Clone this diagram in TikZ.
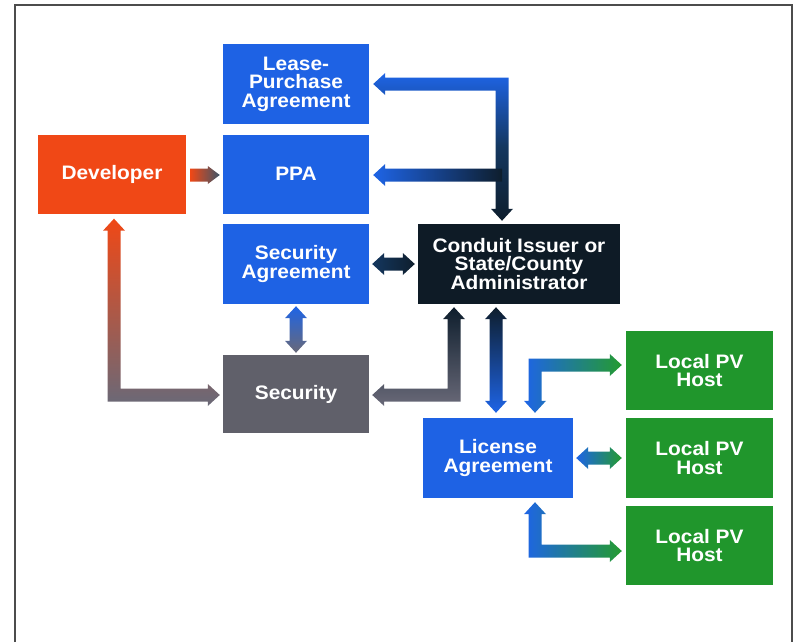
\documentclass[tikz,border=0pt]{standalone}
\usepackage{fontspec}
\setmainfont{Liberation Sans}[FakeStretch=1.07]
\usetikzlibrary{calc}
\definecolor{bbox}{RGB}{30,98,228}
\definecolor{obox}{RGB}{240,72,22}
\definecolor{gbox}{RGB}{96,96,106}
\definecolor{nbox}{RGB}{14,27,38}
\definecolor{grbox}{RGB}{32,150,44}
\definecolor{ablue}{RGB}{30,100,230}
\definecolor{adark}{RGB}{14,30,45}
\definecolor{amid}{RGB}{20,55,95}
\definecolor{agray}{RGB}{105,105,120}
\definecolor{agreen}{RGB}{36,155,48}
\definecolor{aslate}{RGB}{60,85,105}
\def\aSW{6.5pt}
\def\aHW{11pt}
\def\aHL{12pt}
% horizontal double arrow: #1 left tip, #2 right tip
\newcommand\HDbl[4]{%
  \shade[left color=#3,right color=#4] let \p1=#1, \p2=#2 in
   (\x1,\y1) -- (\x1+\aHL,\y1+\aHW) -- (\x1+\aHL,\y1+\aSW) -- (\x2-\aHL,\y1+\aSW) -- (\x2-\aHL,\y1+\aHW) -- (\x2,\y1)
   -- (\x2-\aHL,\y1-\aHW) -- (\x2-\aHL,\y1-\aSW) -- (\x1+\aHL,\y1-\aSW) -- (\x1+\aHL,\y1-\aHW) -- cycle;}
% vertical double arrow: #1 top tip, #2 bottom tip
\newcommand\VDbl[4]{%
  \shade[top color=#3,bottom color=#4] let \p1=#1, \p2=#2 in
   (\x1,\y1) -- (\x1+\aHW,\y1-\aHL) -- (\x1+\aSW,\y1-\aHL) -- (\x1+\aSW,\y2+\aHL) -- (\x1+\aHW,\y2+\aHL) -- (\x1,\y2)
   -- (\x1-\aHW,\y2+\aHL) -- (\x1-\aSW,\y2+\aHL) -- (\x1-\aSW,\y1-\aHL) -- (\x1-\aHW,\y1-\aHL) -- cycle;}
% L arrow: #1 up tip, #2 right tip (corner below-left)
\newcommand\ULArrow[3]{%
  \shade[#3] let \p1=#1, \p2=#2 in
   (\x1,\y1) -- (\x1+\aHW,\y1-\aHL) -- (\x1+\aSW,\y1-\aHL) -- (\x1+\aSW,\y2+\aSW) -- (\x2-\aHL,\y2+\aSW) -- (\x2-\aHL,\y2+\aHW) -- (\x2,\y2)
   -- (\x2-\aHL,\y2-\aHW) -- (\x2-\aHL,\y2-\aSW) -- (\x1-\aSW,\y2-\aSW) -- (\x1-\aSW,\y1-\aHL) -- (\x1-\aHW,\y1-\aHL) -- cycle;}
% L arrow: #1 down tip, #2 right tip (corner above-left)
\newcommand\DLArrow[3]{%
  \shade[#3] let \p1=#1, \p2=#2 in
   (\x1,\y1) -- (\x1+\aHW,\y1+\aHL) -- (\x1+\aSW,\y1+\aHL) -- (\x1+\aSW,\y2-\aSW) -- (\x2-\aHL,\y2-\aSW) -- (\x2-\aHL,\y2-\aHW) -- (\x2,\y2)
   -- (\x2-\aHL,\y2+\aHW) -- (\x2-\aHL,\y2+\aSW) -- (\x1-\aSW,\y2+\aSW) -- (\x1-\aSW,\y1+\aHL) -- (\x1-\aHW,\y1+\aHL) -- cycle;}
\tikzset{
  box/.style={minimum width=146pt, minimum height=80pt, inner sep=0pt, text=white, align=center,
    font=\fontsize{19.5}{18.5}\selectfont\bfseries},
  frame/.style={line width=1.5pt, draw=black!70}
}
\begin{document}
\begin{tikzpicture}[x=1pt,y=-1pt]
\useasboundingbox (0,0) rectangle (797,642);
\draw[frame] (15,642) -- (15,5) -- (792,5) -- (792,642);

\node[box, fill=bbox] (lease) at (296,84) {Lease-\\Purchase\\Agreement};
\node[box, fill=bbox, minimum height=79pt] (ppa) at (296,174) {PPA};
\node[box, fill=obox, minimum width=148pt, minimum height=79pt] (dev) at (112,174) {Developer};
\node[box, fill=bbox] (secag) at (296,264) {Security\\Agreement};
\node[box, fill=gbox, minimum height=78pt] (sec) at (296,394) {Security};
\node[box, fill=nbox, minimum width=202pt] (cond) at (519,264) {Conduit Issuer or\\State/County\\Administrator};
\node[box, fill=grbox, minimum width=147pt, minimum height=79pt] (h1) at (699.5,370.5) {Local PV\\Host};
\node[box, fill=grbox, minimum width=147pt] (h2) at (699.5,458) {Local PV\\Host};
\node[box, fill=grbox, minimum width=147pt, minimum height=79pt] (h3) at (699.5,545.5) {Local PV\\Host};
\node[box, fill=bbox, minimum width=150pt] (lic) at (498,458) {License\\Agreement};

% Developer -> PPA
\shade[left color=obox, right color=aslate] let \p1=($(dev.east)+(4,1)$), \p2=($(ppa.west)+(-3,1)$) in
  (\x1,\y1+\aSW) -- (\x2-\aHL,\y1+\aSW) -- (\x2-\aHL,\y1+9pt) -- (\x2,\y1) -- (\x2-\aHL,\y1-9pt) -- (\x2-\aHL,\y1-\aSW) -- (\x1,\y1-\aSW) -- cycle;

% Conduit -> Lease-Purchase Agreement (L shape)
\coordinate (ctip) at ($(cond.north)+(-17,-3)$);
\shade[top color=ablue, bottom color=adark, middle color=amid] let \p1=($(lease.east)+(4,0)$), \p2=(ctip) in
  (\x1,\y1) -- (\x1+\aHL,\y1+\aHW) -- (\x1+\aHL,\y1+\aSW) -- (\x2+\aSW,\y1+\aSW) -- (\x2+\aSW,\y2+\aHL) -- (\x2+\aHW,\y2+\aHL) -- (\x2,\y2)
  -- (\x2-\aHW,\y2+\aHL) -- (\x2-\aSW,\y2+\aHL) -- (\x2-\aSW,\y1-\aSW) -- (\x1+\aHL,\y1-\aSW) -- (\x1+\aHL,\y1-\aHW) -- cycle;
% Conduit -> PPA (branch)
\shade[left color=ablue, right color=adark] let \p1=($(ppa.east)+(4,1)$), \p2=(ctip) in
  (\x1,\y1) -- (\x1+\aHL,\y1+\aHW) -- (\x1+\aHL,\y1+\aSW) -- (\x2,\y1+\aSW) -- (\x2,\y1-\aSW) -- (\x1+\aHL,\y1-\aSW) -- (\x1+\aHL,\y1-\aHW) -- cycle;

% Security Agreement <-> Conduit
\HDbl{($(secag.east)+(3,0)$)}{($(cond.west)+(-3,0)$)}{amid}{adark}
% Security Agreement <-> Security
\VDbl{($(secag.south)+(0,2)$)}{($(sec.north)+(0,-2)$)}{ablue}{agray}
% Developer <-> Security
\ULArrow{($(dev.south)+(2,5)$)}{($(sec.west)+(-3,1)$)}{top color=obox, bottom color=agray}
% Security <-> Conduit
\shade[top color=adark, bottom color=agray] let \p1=($(sec.east)+(3,1)$), \p2=($(cond.south)+(-65,3)$) in
  (\x1,\y1) -- (\x1+\aHL,\y1+\aHW) -- (\x1+\aHL,\y1+\aSW) -- (\x2-\aSW,\y1+\aSW) -- (\x2-\aSW,\y2-\aHL) -- (\x2-\aHW,\y2-\aHL) -- (\x2,\y2)
  -- (\x2+\aHW,\y2-\aHL) -- (\x2+\aSW,\y2-\aHL) -- (\x2+\aSW,\y1-\aSW) -- (\x1+\aHL,\y1-\aSW) -- (\x1+\aHL,\y1-\aHW) -- cycle;
% Conduit <-> License Agreement
\VDbl{($(cond.south)+(-23,3)$)}{($(lic.north)+(-2,-5)$)}{adark}{ablue}
% License <-> Hosts
\DLArrow{($(lic.north)+(37,-5)$)}{($(h1.west)+(-4,-5.5)$)}{left color=ablue, right color=agreen}
\HDbl{($(lic.east)+(3,0)$)}{($(h2.west)+(-4,0)$)}{ablue}{agreen}
\ULArrow{($(lic.south)+(37,4)$)}{($(h3.west)+(-4,5.5)$)}{left color=ablue, right color=agreen}
\end{tikzpicture}
\end{document}
